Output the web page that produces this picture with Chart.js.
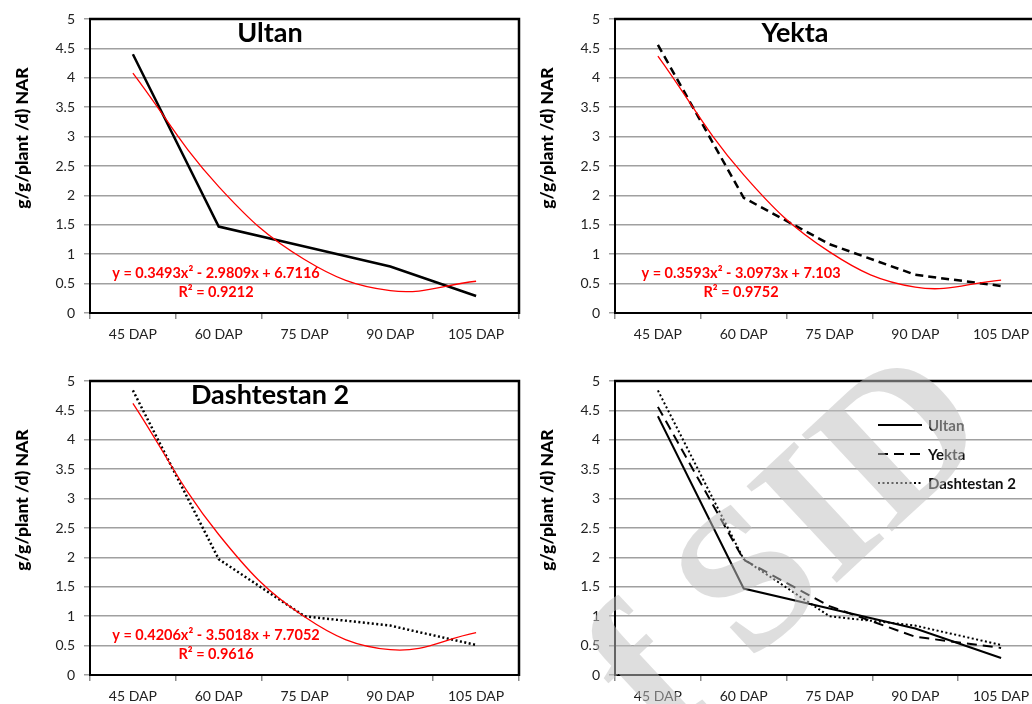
<!DOCTYPE html>
<html><head><meta charset="utf-8">
<script src="https://cdn.jsdelivr.net/npm/chart.js@4.4.0/dist/chart.umd.min.js"></script>
<style>
html,body{margin:0;padding:0;background:#fff;overflow:hidden;width:1032px;height:704px;position:relative;}
canvas{position:absolute;}
</style></head><body>
<canvas id="c1" width="540" height="350" style="left:0;top:0"></canvas>
<canvas id="c2" width="540" height="350" style="left:525px;top:0"></canvas>
<canvas id="c3" width="540" height="350" style="left:0;top:362px"></canvas>
<canvas id="c4" width="540" height="350" style="left:525px;top:362px"></canvas>
<script>
// ---- data ----
const categories = ['45 DAP', '60 DAP', '75 DAP', '90 DAP', '105 DAP'];
const ultan      = [4.40, 1.47, 1.13, 0.79, 0.29];
const yekta      = [4.56, 1.96, 1.17, 0.65, 0.46];
const dashtestan = [4.84, 1.97, 1.00, 0.84, 0.51];
// polynomial trendline values at each category (red curves)
const ultanTrend = [4.08, 2.15, 0.91, 0.38, 0.54];
const yektaTrend = [4.37, 2.35, 1.04, 0.44, 0.56];
const dashTrend  = [4.62, 2.39, 0.99, 0.43, 0.72];
const seriesNames = ['Ultan', 'Yekta', 'Dashtestan 2'];
const equations = ['y = 0.3493x² - 2.9809x + 6.7116', 'y = 0.3593x² - 3.0973x + 7.103', 'y = 0.4206x² - 3.5018x + 7.7052'];
const rSquared  = ['R² = 0.9212', 'R² = 0.9752', 'R² = 0.9616'];
const yAxisTitle = 'g/g/plant /d) NAR';
const yMin = 0, yMax = 5, yStep = 0.5;
const watermarkText = 'f SID';

const FONT = 'Lato';
const styles = {
  solid:  [],
  dashed: [8, 5],
  dotted: [2, 2.5]
};

function decor(opts) {
  return {
    id: 'decor',
    afterDraw(chart) {
      const { ctx, chartArea: a, width } = chart;
      ctx.save();
      // frame top & right
      ctx.strokeStyle = '#000';
      ctx.lineWidth = 2.5;
      ctx.beginPath();
      ctx.moveTo(a.left - 1, a.top);
      ctx.lineTo(a.right, a.top);
      ctx.lineTo(a.right, a.bottom + 1);
      ctx.stroke();
      // y-axis title
      ctx.save();
      ctx.translate(22, 138);
      ctx.rotate(-Math.PI / 2);
      ctx.fillStyle = '#000';
      ctx.font = '900 17.5px ' + FONT;
      ctx.textAlign = 'center';
      ctx.textBaseline = 'middle';
      ctx.fillText(yAxisTitle, 0, 0);
      ctx.restore();
      // panel title
      if (opts.title) {
        ctx.fillStyle = '#000';
        ctx.font = 'bold 27px ' + FONT;
        ctx.textAlign = 'center';
        ctx.textBaseline = 'alphabetic';
        ctx.fillText(opts.title, width / 2, 42);
      }
      // equation
      if (opts.eq) {
        ctx.fillStyle = '#ff0000';
        ctx.font = 'bold 14.5px ' + FONT;
        ctx.textAlign = 'center';
        ctx.textBaseline = 'alphabetic';
        ctx.fillText(opts.eq, a.left + 126, 278);
        ctx.fillText(opts.r2, a.left + 126, 297);
      }
      // legend
      if (opts.legend) {
        const ds = chart.data.datasets;
        ds.forEach((d, i) => {
          const y = 63 + i * 29;
          ctx.strokeStyle = '#000';
          ctx.lineWidth = d.legendWidth;
          ctx.setLineDash(d.legendDash);
          ctx.beginPath();
          ctx.moveTo(353, y);
          ctx.lineTo(397, y);
          ctx.stroke();
          ctx.setLineDash([]);
          ctx.fillStyle = '#111';
          ctx.font = 'bold 15px ' + FONT;
          ctx.textAlign = 'left';
          ctx.textBaseline = 'middle';
          ctx.fillText(d.label, 403, y + 1);
        });
      }
      // watermark overlay
      if (opts.watermark) {
        const fs = 202;
        ctx.font = 'bold ' + fs + 'px "Liberation Serif"';
        const pre = ctx.measureText('f S').width + ctx.measureText('I').width / 2;
        ctx.translate(815 - 525, 512 - 362);
        ctx.rotate(-43 * Math.PI / 180);
        ctx.fillStyle = 'rgba(192,192,192,0.52)';
        ctx.textAlign = 'left';
        ctx.textBaseline = 'alphabetic';
        ctx.fillText(opts.watermark, -pre, fs * 0.33);
      }
      ctx.restore();
    }
  };
}

function scales() {
  return {
    x: {
      type: 'category', offset: true,
      grid: { offset: true, drawOnChartArea: false, drawTicks: true, tickLength: 6, color: '#8c8c8c', lineWidth: 1.5 },
      border: { display: true, color: '#000', width: 2 },
      ticks: { color: '#222', font: { family: FONT, size: 14 }, padding: 7, maxRotation: 0, autoSkip: false },
      afterFit(s) { s.height = 37; }
    },
    y: {
      min: yMin, max: yMax,
      ticks: { stepSize: yStep, color: '#222', font: { family: FONT, size: 14 }, padding: 9,
               callback: v => String(Math.round(v * 10) / 10) },
      grid: { color: '#a0a0a0', lineWidth: 1.5, tickLength: 6, drawTicks: true },
      border: { display: true, color: '#000', width: 2 },
      afterFit(s) { s.width = 90; }
    }
  };
}

function lineDs(label, data, dash, width) {
  return {
    label, data, borderColor: '#000', borderWidth: width, borderDash: dash,
    pointRadius: 0, fill: false, tension: 0, order: 1,
    borderCapStyle: 'butt', legendDash: dash, legendWidth: width
  };
}
function trendDs(data) {
  return {
    label: 'trend', data, borderColor: '#ff0000', borderWidth: 1.3,
    pointRadius: 0, fill: false, tension: 0.4, order: 0
  };
}

function makeChart(id, datasets, opts) {
  return new Chart(document.getElementById(id), {
    type: 'line',
    data: { labels: categories, datasets },
    options: {
      responsive: false, animation: false, devicePixelRatio: 1,
      layout: { padding: { top: 19, right: 21, left: 0, bottom: 0 } },
      plugins: { legend: { display: false }, tooltip: { enabled: false }, title: { display: false } },
      scales: scales()
    },
    plugins: [decor(opts)]
  });
}

makeChart('c1', [lineDs(seriesNames[0], ultan, styles.solid, 2.5), trendDs(ultanTrend)],
  { title: seriesNames[0], eq: equations[0], r2: rSquared[0] });
makeChart('c2', [lineDs(seriesNames[1], yekta, styles.dashed, 2.5), trendDs(yektaTrend)],
  { title: seriesNames[1], eq: equations[1], r2: rSquared[1] });
makeChart('c3', [lineDs(seriesNames[2], dashtestan, styles.dotted, 2.5), trendDs(dashTrend)],
  { title: seriesNames[2], eq: equations[2], r2: rSquared[2] });
makeChart('c4', [
  lineDs(seriesNames[0], ultan, styles.solid, 2),
  lineDs(seriesNames[1], yekta, [10, 6], 2),
  lineDs(seriesNames[2], dashtestan, [2, 2.5], 2)
], { legend: true, watermark: watermarkText });
</script>
</body></html>
